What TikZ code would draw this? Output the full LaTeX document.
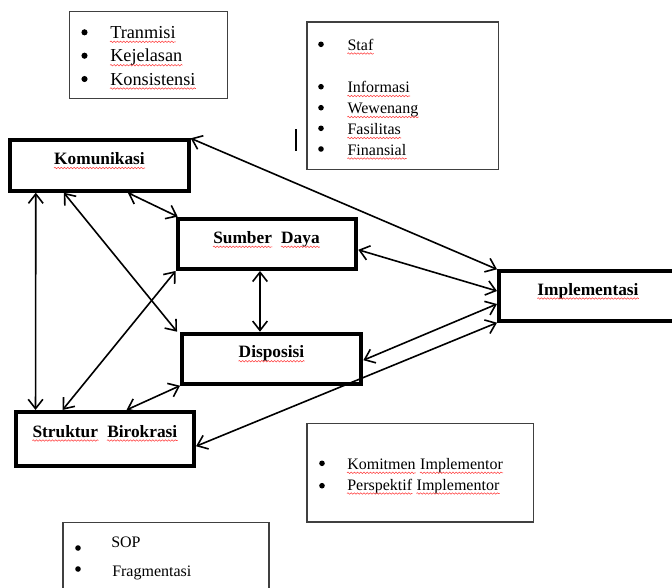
\documentclass[tikz,border=0pt]{standalone}
\usepackage{fontspec}
\setmainfont{Liberation Serif}
\usetikzlibrary{arrows.meta,calc,decorations.pathmorphing}
\begin{document}
\begin{tikzpicture}[x=0.75pt,y=-0.75pt,
  thickbox/.style={draw=black,line width=3pt,inner sep=0pt},
  thinbox/.style={draw=black!75,line width=1.1pt,inner sep=0pt},
  boldtxt/.style={font=\fontsize{13}{15}\selectfont\bfseries,inner sep=0pt,anchor=base},
  boldw/.style={font=\fontsize{13}{15}\selectfont\bfseries,inner sep=0pt,anchor=base west},
  bigtxt/.style={font=\fontsize{13.7}{16}\selectfont,inner sep=0pt,anchor=base west},
  smalltxt/.style={font=\fontsize{12}{14}\selectfont,inner sep=0pt,anchor=base west},
  bigbul/.style={circle,fill=black,inner sep=0pt,minimum size=4.6pt},
  smallbul/.style={circle,fill=black,inner sep=0pt,minimum size=4.2pt},
  squig/.style={draw=red!75,line width=0.4pt,decorate,decoration={snake,amplitude=0.55pt,segment length=2.4pt}},
  link/.style={line width=1.2pt,{Straight Barb[length=7pt,width=11pt]}-{Straight Barb[length=7pt,width=11pt]}}]
\useasboundingbox (0,0) rectangle (672,587);
\clip (0,0) rectangle (672,587);
\fill[white] (0,0) rectangle (672,587);

% main boxes
\node[thickbox,minimum width=133.8pt,minimum height=37.8pt] (kom) at (99.5,165.5) {};
\node[thickbox,minimum width=133.95pt,minimum height=37.7pt] (sd) at (267,243.8) {};
\node[thickbox,minimum width=134.5pt,minimum height=37.5pt] (dis) at (271.7,358.7) {};
\node[thickbox,minimum width=133.9pt,minimum height=40.9pt] (sb) at (104.8,439.2) {};
\node[thickbox,minimum width=133.5pt,minimum height=37.05pt] (imp) at (588,296) {};

\node[boldtxt] (tkom) at (99.5,164.5) {Komunikasi};
\node[boldw] (tsd1) at (213,243.3) {Sumber};
\node[boldw] (tsd2) at ([xshift=6.5pt]tsd1.base east) {Daya};
\node[boldtxt] (tdis) at (271.5,357.7) {Disposisi};
\node[boldw] (tsb1) at (32.3,437) {Struktur};
\node[boldw] (tsb2) at ([xshift=6.5pt]tsb1.base east) {Birokrasi};
\node[boldtxt] (timp) at (588,295) {Implementasi};

% list boxes
\node[thinbox,minimum width=118.5pt,minimum height=65.55pt] (tk) at (148.3,55) {};
\node[thinbox,minimum width=143.8pt,minimum height=110.5pt] (sf) at (402.8,95.7) {};
\node[thinbox,minimum width=169.9pt,minimum height=73.9pt] (km) at (420.3,472.8) {};
\node[thinbox,minimum width=154.5pt,minimum height=67.5pt] (sp) at (166,567.7) {};

% Tranmisi list
\node[bigbul] (b11) at (84.5,32.3) {};
\node[bigbul] (b12) at (84.5,55.7) {};
\node[bigbul] (b13) at (84.5,79) {};
\node[bigtxt] (l11) at (110,38.3) {Tranmisi};
\node[bigtxt] (l12) at (110,61.7) {Kejelasan};
\node[bigtxt] (l13) at (110,85) {Konsistensi};

% Staf list
\node[smallbul] (b21) at (321,44.3) {};
\node[smallbul] (b22) at (321,86.7) {};
\node[smallbul] (b23) at (321,107.7) {};
\node[smallbul] (b24) at (321,128.3) {};
\node[smallbul] (b25) at (321,149) {};
\node[smalltxt] (l21) at (347.3,50) {Staf};
\node[smalltxt] (l22) at (347.3,92.5) {Informasi};
\node[smalltxt] (l23) at (347.3,113.5) {Wewenang};
\node[smalltxt] (l24) at (347.3,134.5) {Fasilitas};
\node[smalltxt] (l25) at (347.3,155) {Finansial};

% Komitmen list
\node[smallbul] (b31) at (322,463.3) {};
\node[smallbul] (b32) at (322,485.7) {};
\node[smalltxt] (l31a) at (347,469.3) {Komitmen};
\node[smalltxt] (l31b) at ([xshift=3pt]l31a.base east) {Implementor};
\node[smalltxt] (l32a) at (347,490) {Perspektif};
\node[smalltxt] (l32b) at ([xshift=3pt]l32a.base east) {Implementor};

% SOP list
\node[smallbul] (b41) at (78,548) {};
\node[smallbul] (b42) at (78,569) {};
\node[smalltxt] (l41) at (111,547) {SOP};
\node[smalltxt] (l42) at (112,576.5) {Fragmentasi};

% spell-check underlines
\foreach \w in {tkom,tsd1,tsd2,tdis,tsb1,tsb2,timp,l11,l12,l13,l21,l22,l23,l24,l25,l31a,l31b,l32a,l32b}
  \draw[squig] ($(\w.base west)+(0,3.5)$) -- ($(\w.base east)+(0,3.5)$);

% stray bar
\draw[line width=1.6pt] (296,129) -- (296,151);

% connectors
\draw[link] (kom.north east) -- (imp.north west);
\draw[link] ($(sd.east)+(0,6)$) -- ($(imp.west)+(0,-5)$);
\draw[link] ($(dis.east)+(0,1.5)$) -- ($(imp.west)+(0,8)$);
\draw[link] ($(sb.east)+(0,7)$) -- (imp.south west);
\draw[link] ($(kom.south west)+(27.5,0)$) -- ($(sb.north west)+(22,0)$);
\draw[link] ($(kom.south west)+(55.5,0)$) -- ($(dis.north west)+(-3,0)$);
\draw[link] ($(kom.south west)+(119.5,0)$) -- ($(sd.north west)+(2,0)$);
\draw[link] (sd.south west) -- ($(sb.north west)+(49,0)$);
\draw[link] ($(sd.south)+(-7,0)$) -- ($(dis.north)+(-11.7,0)$);
\draw[link] (dis.south west) -- ($(sb.north west)+(113,0)$);
\end{tikzpicture}
\end{document}
